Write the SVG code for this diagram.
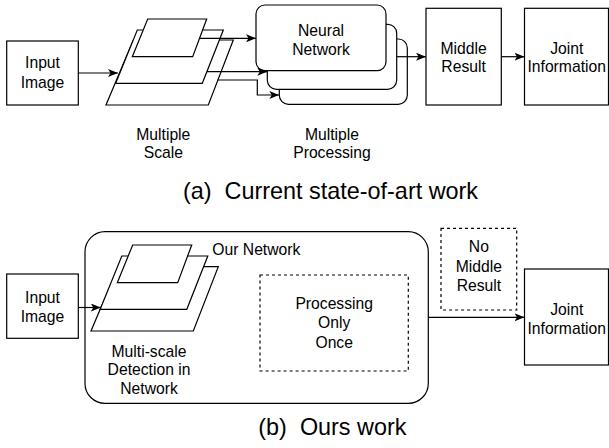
<svg xmlns="http://www.w3.org/2000/svg" width="609" height="448" viewBox="0 0 609 448">
<defs>
<style>
.box{fill:#fff;stroke:#000;stroke-width:1.2}
.dash{fill:none;stroke:#000;stroke-width:1.2;stroke-dasharray:3 3}
.con{fill:none;stroke:#000;stroke-width:1.2;marker-end:url(#arr)}
text{font-family:"Liberation Sans",Arial,Helvetica,sans-serif;font-size:15.7px;fill:#000}
.c{text-anchor:middle}
.cap{font-size:23.4px}
</style>
<marker id="arr" markerUnits="userSpaceOnUse" markerWidth="10" markerHeight="8" refX="10" refY="4" orient="auto">
<path d="M0,0 L10,4 L0,8 L2.5,4 Z" fill="#000"/>
</marker>
</defs>
<rect width="609" height="448" fill="#fff"/>

<!-- (a) -->
<g id="a-input">
<rect class="box" x="6.7" y="41" width="71.6" height="64"/>
<text class="c" x="42.5" y="68.3">Input</text>
<text class="c" x="42.5" y="87.7">Image</text>
</g>
<g id="a-scales">
<polygon class="box" points="133.3,40 233.3,40 208.3,105 106,105"/>
<polygon class="box" points="137.3,30 223.3,30 202.3,83.3 115.7,83.3"/>
<polygon class="box" points="147.7,19 206.7,19 192.7,56.7 132.3,56.7"/>
</g>
<g id="a-scale-label">
<text class="c" x="163.3" y="140">Multiple</text>
<text class="c" x="163.3" y="158">Scale</text>
</g>
<g id="a-nn">
<rect class="box" x="279.3" y="39" width="128" height="65.3" rx="9"/>
<rect class="box" x="267.3" y="24.3" width="129.4" height="65" rx="9"/>
<rect class="box" x="256" y="5" width="130" height="65.7" rx="9"/>
<text class="c" x="321" y="36.2">Neural</text>
<text class="c" x="321" y="54.8">Network</text>
</g>
<g id="a-proc-label">
<text class="c" x="332" y="140">Multiple</text>
<text class="c" x="332" y="158">Processing</text>
</g>
<g id="a-middle">
<rect class="box" x="426" y="8.3" width="75.3" height="96.7"/>
<text class="c" x="463.6" y="53.8">Middle</text>
<text class="c" x="463.6" y="72.4">Result</text>
</g>
<g id="a-joint">
<rect class="box" x="524.5" y="8.3" width="84" height="96.7"/>
<text class="c" x="566.7" y="53.8">Joint</text>
<text class="c" x="566.7" y="72.4">Information</text>
</g>
<g id="a-caption">
<text class="cap" x="183" y="199.3" xml:space="preserve">(a)  Current state-of-art work</text>
</g>

<!-- (b) -->
<g id="b-input">
<rect class="box" x="6.7" y="274" width="71.6" height="64.3"/>
<text class="c" x="42.5" y="303.3">Input</text>
<text class="c" x="42.5" y="321.7">Image</text>
</g>
<g id="b-network">
<rect class="box" x="85" y="231.7" width="343.3" height="171.7" rx="20"/>
<text x="212.3" y="255.3">Our Network</text>
</g>
<g id="b-scales">
<polygon class="box" points="118.3,266.7 218.3,266.7 193.3,331 91,331"/>
<polygon class="box" points="121.8,256 207.8,256 186.8,309.3 100.2,309.3"/>
<polygon class="box" points="132.7,245 191.7,245 177.7,282.7 117.3,282.7"/>
<text class="c" x="149" y="356.7">Multi-scale</text>
<text class="c" x="149" y="375.3">Detection in</text>
<text class="c" x="149" y="394">Network</text>
</g>
<g id="b-process">
<rect class="dash" x="260" y="275" width="148.3" height="96"/>
<text class="c" x="334.2" y="308.5">Processing</text>
<text class="c" x="334.2" y="328.3">Only</text>
<text class="c" x="334.2" y="348">Once</text>
</g>
<g id="b-nomiddle">
<rect class="dash" x="441" y="228.3" width="75.7" height="81.7"/>
<text class="c" x="478.9" y="252.3">No</text>
<text class="c" x="478.9" y="271.5">Middle</text>
<text class="c" x="478.9" y="290.7">Result</text>
</g>
<g id="b-joint">
<rect class="box" x="524.5" y="269" width="84" height="96"/>
<text class="c" x="566.7" y="315">Joint</text>
<text class="c" x="566.7" y="333.5">Information</text>
</g>
<g id="b-caption">
<text class="cap" x="258.3" y="435" xml:space="preserve">(b)  Ours work</text>
</g>

<g id="connectors">
<path class="con" d="M78.3,73 H118"/>
<path class="con" d="M200,38.3 H256"/>
<path class="con" d="M207,71.7 H267.3"/>
<path class="con" d="M217.5,80 H257.3 V95 H279.3"/>
<path class="con" d="M396.7,56.7 H426"/>
<path class="con" d="M501.3,56.7 H524.5"/>
<path class="con" d="M78.3,307.5 H100.8"/>
<path class="con" d="M428.3,317.3 H524.5"/>
</g>
</svg>
